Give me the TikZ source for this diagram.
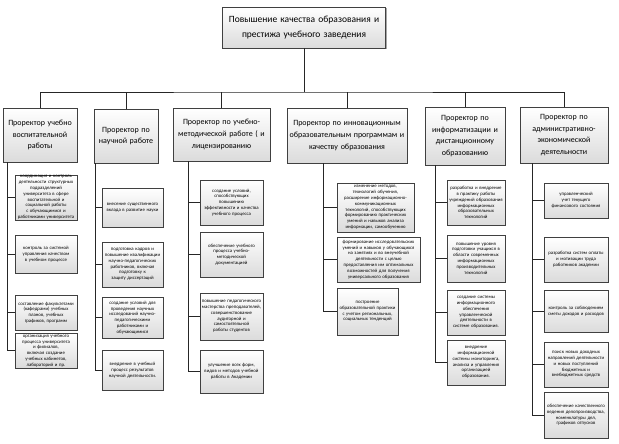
\documentclass[tikz,border=0pt]{standalone}
\usepackage{fontspec}
\setmainfont{Carlito}
\usetikzlibrary{shadows}
\tikzset{
  boxbase/.style={draw=black!75, top color=white, bottom color=black!14, align=center,
    drop shadow={shadow xshift=1.3pt, shadow yshift=-1.3pt, fill=black, opacity=0.35}},
  topbox/.style={boxbase, line width=0.7pt, inner sep=2pt, font=\fontsize{9.5}{14.5}\selectfont},
  mainbox/.style={boxbase, line width=0.7pt, inner sep=1pt, font=\fontsize{8}{11.8}\selectfont},
  subbox/.style={boxbase, line width=0.6pt, inner xsep=1.5pt, inner ysep=0.5pt, font=\fontsize{4.8}{5.8}\selectfont},
  conn/.style={draw=black!85, line width=0.6pt}
}
\newcommand\placebox[7]{%
  \pgfmathsetmacro\bxCX{(#3+#5)/2}\pgfmathsetmacro\bxCY{(#4+#6)/2}%
  \pgfmathsetmacro\bxW{#5-#3}\pgfmathsetmacro\bxH{#6-#4}\pgfmathsetmacro\bxTW{#5-#3-3}%
  \node[#1, minimum width=\bxW pt, minimum height=\bxH pt, text width=\bxTW pt] (#2) at (\bxCX,\bxCY) {#7};}
\begin{document}
\begin{tikzpicture}[x=1pt,y=-1pt]
\useasboundingbox (0,0) rectangle (619,444);
% top
\placebox{topbox}{top}{223}{7}{385}{48}{Повышение качества образования и\\престижа учебного заведения}
% level 2
\placebox{mainbox}{l1}{3}{108}{77}{162}{Проректор учебно\\воспитательной\\работы}
\placebox{mainbox}{l2}{94}{109}{158}{163}{Проректор по\\научной работе}
\placebox{mainbox}{l3}{173}{108}{270}{161}{Проректор по учебно-\\методической работе ( и\\лицензированию}
\placebox{mainbox}{l4}{287}{108}{407}{163}{Проректор по инновационным\\образовательным программам и\\качеству образования}
\placebox{mainbox}{l5}{425}{107}{505}{165}{Проректор по\\информатизации и\\дистанционному\\образованию}
\placebox{mainbox}{l6}{520}{107}{608}{163}{Проректор по\\административно-\\экономической\\деятельности}
% bus
\coordinate (bus) at (304,92);
\draw[conn] (top.south) -- (bus);
\draw[conn] (l1.north) |- (bus) -| (l6.north);
\foreach \n in {l2,l3,l4,l5}{\draw[conn] (\n.north) -- (\n.north |- bus);}
% column 1
\placebox{subbox}{a1}{15}{177}{77}{218}{координация и контроль деятельности структурных подразделений университета в сфере воспитательной и социальной работы с обучающимися и работниками университета}
\placebox{subbox}{a2}{15}{235}{77}{273}{контроль за системой управления качеством в учебном процессе}
\placebox{subbox}{a3}{15}{295}{77}{330}{составление факультетами (кафедрами) учебных планов, учебных графиков, программ}
\placebox{subbox}{a4}{15}{333}{77}{368}{организация учебного процесса университета и филиалов, включая создание учебных кабинетов, лабораторий и пр.}
\coordinate (s1) at (7,162);
\foreach \n in {a1,a2,a3,a4}{\draw[conn] (s1) |- (\n.west);}
% column 2
\placebox{subbox}{b1}{102}{188}{163}{227}{внесение существенного вклада в развитие науки}
\placebox{subbox}{b2}{102}{242}{163}{287}{подготовка кадров и повышение квалификации научно-педагогических работников, включая подготовку к защиту диссертаций}
\placebox{subbox}{b3}{102}{297}{163}{338}{создание условий для проведения научных исследований научно-педагогическими работниками и обучающимися}
\placebox{subbox}{b4}{102}{350}{163}{390}{внедрение в учебный процесс результатов научной деятельности.}
\coordinate (s2) at (95,163);
\foreach \n in {b1,b2,b3,b4}{\draw[conn] (s2) |- (\n.west);}
% column 3
\placebox{subbox}{c1}{200}{180}{263}{225}{создание условий, способствующих повышению эффективности и качества учебного процесса}
\placebox{subbox}{c2}{200}{232}{263}{277}{обеспечение учебного процесса учебно-методической документацией}
\placebox{subbox}{c3}{200}{293}{263}{340}{повышение педагогического мастерства преподавателей, совершенствование аудиторной и самостоятельной работы студентов}
\placebox{subbox}{c4}{200}{350}{263}{393}{улучшение всех форм, видов и методов учебной работы в Академии}
\coordinate (s3) at (188,161);
\foreach \n in {c1,c2,c3,c4}{\draw[conn] (s3) |- (\n.west);}
% column 4
\placebox{subbox}{d1}{337}{183}{414}{232}{изменение методов, технологий обучения, расширение информационно-коммуникационных технологий, способствующих формированию практических умений и навыков анализа информации, самообучению}
\placebox{subbox}{d2}{337}{237}{420}{282}{формирование исследовательских умений и навыков у обучающихся на занятиях и во внеучебной деятельности с целью предоставления им оптимальных возможностей для получения универсального образования}
\placebox{subbox}{d3}{337}{288}{398}{335}{построение образовательной практики с учетом региональных, социальных тенденций}
\coordinate (s4) at (323,163);
\foreach \n in {d1,d2,d3}{\draw[conn] (s4) |- (\n.west);}
% column 5
\placebox{subbox}{e1}{447}{180}{505}{225}{разработка и внедрение в практику работы учреждений образования информационных образовательных технологий}
\placebox{subbox}{e2}{447}{235}{505}{282}{повышение уровня подготовки учащихся в области современных информационных производительных технологий}
\placebox{subbox}{e3}{447}{290}{505}{335}{создание системы информационного обеспечения управленческой деятельности в системе образования.}
\placebox{subbox}{e4}{447}{340}{505}{385}{внедрение информационной системы мониторинга, анализа и управления организацией образования.}
\coordinate (s5) at (435,165);
\foreach \n in {e1,e2,e3,e4}{\draw[conn] (s5) |- (\n.west);}
% column 6
\placebox{subbox}{f1}{544}{183}{608}{218}{управленческий учет текущего финансового состояния}
\placebox{subbox}{f2}{544}{237}{608}{282}{разработка систем оплаты и мотивации труда работников академии}
\placebox{subbox}{f3}{544}{290}{608}{332}{контроль за соблюдением сметы доходов и расходов}
\placebox{subbox}{f4}{544}{342}{608}{387}{поиск новых доходных направлений деятельности и новых поступлений бюджетных и внебюджетных средств}
\placebox{subbox}{f5}{544}{392}{608}{438}{обеспечение качественного ведения делопроизводства, номенклатуры дел, графиков отпусков}
\coordinate (s6) at (532,163);
\foreach \n in {f1,f2,f3,f4,f5}{\draw[conn] (s6) |- (\n.west);}
\end{tikzpicture}
\end{document}
